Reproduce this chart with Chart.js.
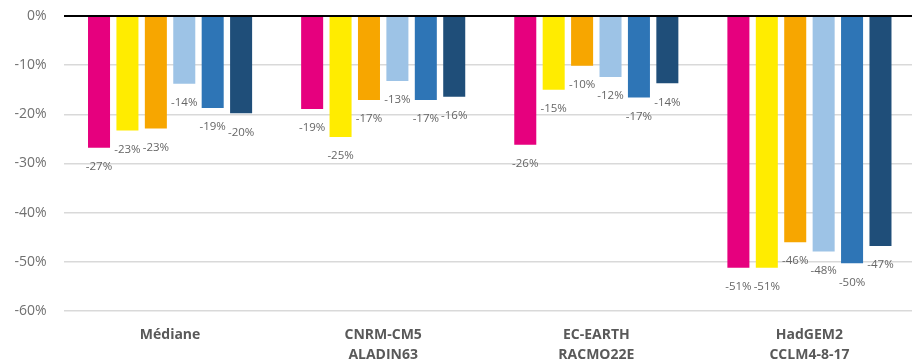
<!DOCTYPE html>
<html>
<head>
<meta charset="utf-8">
<script src="https://cdn.jsdelivr.net/npm/chart.js@4/dist/chart.umd.min.js"></script>
<style>
  html, body { margin: 0; padding: 0; background: #fff; overflow: hidden; }
  #wrap { width: 916px; height: 364px; position: relative; }
</style>
</head>
<body>
<div id="wrap"><canvas id="c"></canvas></div>
<script>
// Model groups (two-line labels)
const categories = [
  ['Médiane'],
  ['CNRM-CM5', 'ALADIN63'],
  ['EC-EARTH', 'RACMO22E'],
  ['HadGEM2', 'CCLM4-8-17']
];

// Change (%) per scenario within each group
const series1 = [-26.8, -18.9, -26.2, -51.2];
const series2 = [-23.3, -24.6, -15.0, -51.2];
const series3 = [-22.9, -17.1, -10.1, -46.0];
const series4 = [-13.8, -13.2, -12.4, -47.9];
const series5 = [-18.7, -17.1, -16.6, -50.3];
const series6 = [-19.8, -16.4, -13.7, -46.8];

const yTicks = [0, -10, -20, -30, -40, -50, -60];

const colors = ['#E6007E', '#FFEC00', '#F7A600', '#9DC3E6', '#2E75B6', '#1F4E79'];
const allSeries = [series1, series2, series3, series4, series5, series6];

const FONT = "'Open Sans', 'Liberation Sans', sans-serif";

// Value labels under each bar end
const valueLabels = {
  id: 'valueLabels',
  afterDatasetsDraw(chart) {
    const ctx = chart.ctx;
    ctx.save();
    ctx.font = '11.5px ' + FONT;
    ctx.fillStyle = '#666666';
    ctx.textAlign = 'center';
    ctx.textBaseline = 'middle';
    chart.data.datasets.forEach((ds, di) => {
      const meta = chart.getDatasetMeta(di);
      meta.data.forEach((bar, i) => {
        const v = ds.data[i];
        ctx.fillText(Math.round(v) + '%', bar.x, bar.y + 19);
      });
    });
    ctx.restore();
  }
};

new Chart(document.getElementById('c'), {
  type: 'bar',
  data: {
    labels: categories,
    datasets: allSeries.map((d, i) => ({
      label: 'S' + (i + 1),
      data: d,
      backgroundColor: colors[i],
      borderWidth: 0,
      categoryPercentage: 0.8,
      barPercentage: 0.775
    }))
  },
  options: {
    responsive: true,
    maintainAspectRatio: false,
    animation: false,
    layout: { padding: { top: 16, right: 0, bottom: 0, left: 0 } },
    plugins: {
      legend: { display: false },
      tooltip: { enabled: false }
    },
    scales: {
      x: {
        grid: { display: false, drawTicks: false },
        border: { display: false },
        ticks: {
          color: '#595959',
          font: { family: FONT, size: 14, weight: 'bold', lineHeight: '20px' },
          padding: 14,
          maxRotation: 0,
          autoSkip: false
        },
        afterFit(scale) { scale.height = 53; }
      },
      y: {
        min: -60,
        max: 0,
        afterBuildTicks(scale) { scale.ticks = yTicks.map(v => ({ value: v })); },
        grid: {
          drawTicks: false,
          color: ctx => ctx.tick && ctx.tick.value === 0 ? '#000000' : '#d9d9d9',
          lineWidth: ctx => ctx.tick && ctx.tick.value === 0 ? 2 : 1.5
        },
        border: { display: false },
        ticks: {
          color: '#707070',
          font: { family: FONT, size: 14 },
          padding: 17,
          callback: v => v + '%'
        },
        afterFit(scale) {
          scale.width = 63.5;
          scale.paddingTop = 0;
          scale.paddingBottom = 0;
        }
      }
    }
  },
  plugins: [valueLabels]
});
</script>
</body>
</html>
